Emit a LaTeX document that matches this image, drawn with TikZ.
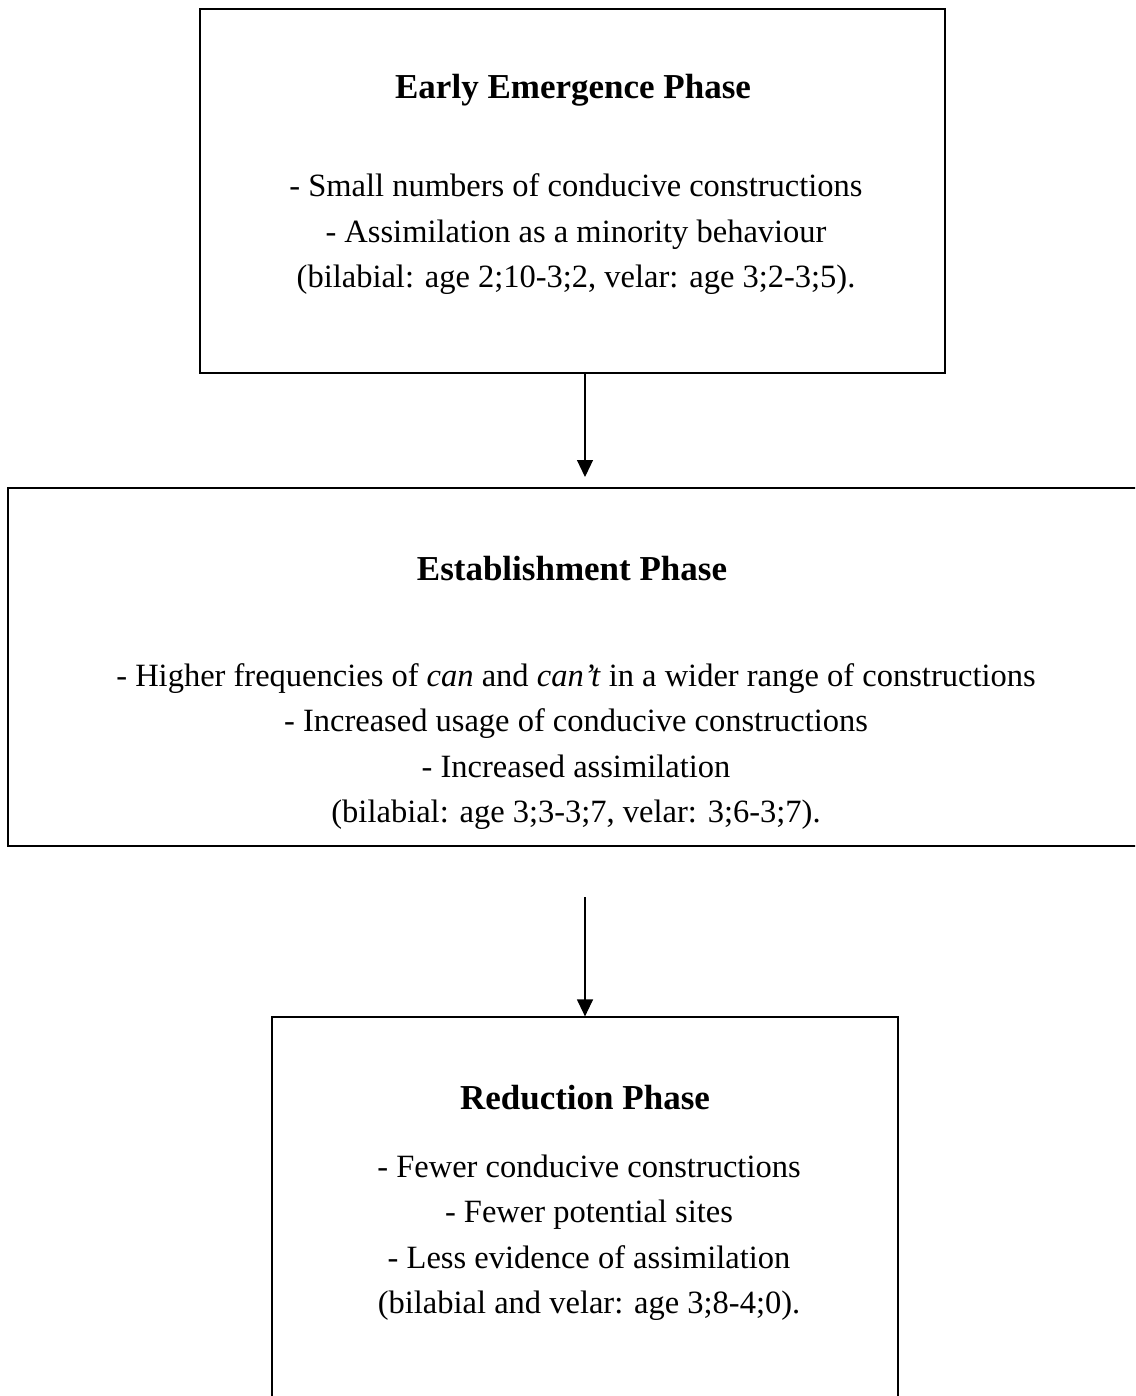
\documentclass[tikz,border=0pt]{standalone}
\usepackage{fontspec}
\setmainfont{Liberation Serif}
\usetikzlibrary{arrows.meta}
\tikzset{
  phasebox/.style={draw,line width=1.2pt,inner sep=0pt},
  phasetitle/.style={anchor=base,inner sep=0pt,font=\fontsize{35}{40}\selectfont\bfseries},
  phaseline/.style={anchor=base,inner sep=0pt,font=\fontsize{32.5}{38}\selectfont},
  phasearrow/.style={line width=1.2pt,-{Triangle[width=16pt,length=17pt]}}
}
\begin{document}
\begin{tikzpicture}[x=1pt,y=-1pt]
\clip (0,0) rectangle (1135,1396);
\fill[white] (0,0) rectangle (1135,1396);
% boxes
\node[phasebox,minimum width=745pt,minimum height=364pt] (early) at (572.5,191) {};
\node[phasebox,minimum width=1134pt,minimum height=358pt] (estab) at (575,667) {};
\node[phasebox,minimum width=626pt,minimum height=388pt] (reduc) at (585,1211) {};
% titles
\node[phasetitle] (earlyt) at (573,99) {Early Emergence Phase};
\node[phasetitle] (estabt) at (572,580) {Establishment Phase};
\node[phasetitle] (reduct) at (585,1109) {Reduction Phase};
% lines
\foreach \t [count=\i] in {{- Small numbers of conducive constructions},
  {- Assimilation as a minority behaviour},
  {(bilabial: age 2;10-3;2, velar: age 3;2-3;5).}}
  \node[phaseline] (early-\i) at (576,{197+45.5*(\i-1)}) {\t};
\foreach \t [count=\i] in {{- Higher frequencies of \textit{can} and \textit{can’t} in a wider range of constructions},
  {- Increased usage of conducive constructions},
  {- Increased assimilation},
  {(bilabial: age 3;3-3;7, velar: 3;6-3;7).}}
  \node[phaseline] (estab-\i) at (576,{686+45.5*(\i-1)}) {\t};
\foreach \t [count=\i] in {{- Fewer conducive constructions},
  {- Fewer potential sites},
  {- Less evidence of assimilation},
  {(bilabial and velar: age 3;8-4;0).}}
  \node[phaseline] (reduc-\i) at (589,{1177+45.5*(\i-1)}) {\t};
% arrows
\coordinate (tip1) at (585,477);
\coordinate (tail2) at (585,897);
\draw[phasearrow] (tip1 |- early.south) -- (tip1);
\draw[phasearrow] (tail2) -- (reduc.north);
\end{tikzpicture}
\end{document}
